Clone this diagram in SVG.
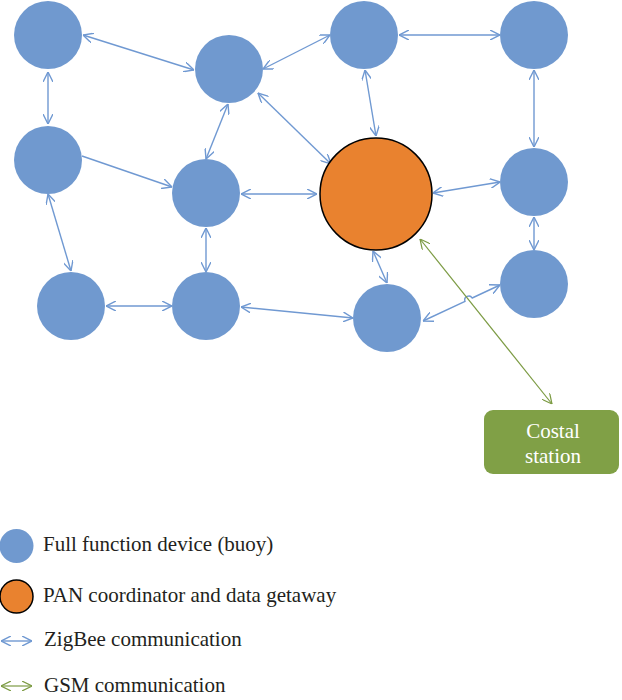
<svg xmlns="http://www.w3.org/2000/svg" width="622" height="700" viewBox="0 0 622 700">
<style>
.ffd{fill:#7099CF;}
.pan{fill:#E9822F;stroke:#000;stroke-width:1.5;}
.zb{fill:none;stroke:#7099D2;stroke-width:1.4;}
.gsm{fill:none;stroke:#7C9B43;stroke-width:1.2;}
.t{font-family:"Liberation Serif","Times New Roman",serif;font-size:21px;fill:#231F20;}
.tw{font-family:"Liberation Serif","Times New Roman",serif;font-size:21px;fill:#FFFFFF;text-anchor:middle;}
</style>
<defs>
<marker id="ab" viewBox="0 0 10 10" refX="10" refY="5" markerUnits="userSpaceOnUse" markerWidth="10" markerHeight="10" orient="auto-start-reverse">
<path d="M0,0 L10,5 L0,10" fill="none" stroke="#7099D2" stroke-width="1.4"/>
</marker>
<marker id="ag" viewBox="0 0 10 10" refX="10" refY="5" markerUnits="userSpaceOnUse" markerWidth="10" markerHeight="10" orient="auto-start-reverse">
<path d="M0,0 L10,5 L0,10" fill="none" stroke="#7C9B43" stroke-width="1.2"/>
</marker>
</defs>
<g id="connectors">
<line class="zb" x1="83" y1="35" x2="194" y2="70" marker-start="url(#ab)" marker-end="url(#ab)"/>
<line class="zb" x1="48" y1="72" x2="48" y2="124" marker-start="url(#ab)" marker-end="url(#ab)"/>
<line class="zb" x1="82" y1="156" x2="172" y2="187" marker-end="url(#ab)"/>
<line class="zb" x1="228" y1="104" x2="206" y2="159" marker-start="url(#ab)" marker-end="url(#ab)"/>
<line class="zb" x1="258" y1="93" x2="331" y2="164" marker-start="url(#ab)" marker-end="url(#ab)"/>
<line class="zb" x1="263" y1="69" x2="330" y2="35" marker-start="url(#ab)" marker-end="url(#ab)"/>
<line class="zb" x1="399" y1="35" x2="500" y2="35" marker-start="url(#ab)" marker-end="url(#ab)"/>
<line class="zb" x1="365" y1="70" x2="376" y2="136" marker-start="url(#ab)" marker-end="url(#ab)"/>
<line class="zb" x1="534" y1="70" x2="534" y2="147" marker-start="url(#ab)" marker-end="url(#ab)"/>
<line class="zb" x1="241" y1="194" x2="317" y2="194" marker-start="url(#ab)" marker-end="url(#ab)"/>
<line class="zb" x1="433" y1="193" x2="500" y2="182" marker-start="url(#ab)" marker-end="url(#ab)"/>
<line class="zb" x1="534" y1="217" x2="534" y2="250" marker-start="url(#ab)" marker-end="url(#ab)"/>
<line class="zb" x1="373" y1="251" x2="387" y2="283" marker-start="url(#ab)" marker-end="url(#ab)"/>
<line class="zb" x1="48" y1="194" x2="71" y2="271" marker-start="url(#ab)" marker-end="url(#ab)"/>
<line class="zb" x1="206" y1="228" x2="206" y2="272" marker-start="url(#ab)" marker-end="url(#ab)"/>
<line class="zb" x1="106" y1="306" x2="172" y2="306" marker-start="url(#ab)" marker-end="url(#ab)"/>
<line class="zb" x1="241" y1="307" x2="353" y2="318" marker-start="url(#ab)" marker-end="url(#ab)"/>
<path class="zb" d="M423,321 L465,301.4 A4,4 0 0 1 472.2,298 L500,285" marker-start="url(#ab)" marker-end="url(#ab)"/>
<line class="gsm" x1="420" y1="239" x2="552" y2="404" marker-start="url(#ag)" marker-end="url(#ag)"/>
</g>
<g id="n1"><circle class="ffd" cx="48" cy="35" r="34"/></g>
<g id="n2"><circle class="ffd" cx="229" cy="69" r="34"/></g>
<g id="n3"><circle class="ffd" cx="48" cy="160" r="34"/></g>
<g id="n4"><circle class="ffd" cx="206" cy="193" r="34"/></g>
<g id="n5"><circle class="ffd" cx="364" cy="35" r="34"/></g>
<g id="n6"><circle class="ffd" cx="534" cy="35" r="34"/></g>
<g id="n7"><circle class="pan" cx="376" cy="194" r="56"/></g>
<g id="n8"><circle class="ffd" cx="534" cy="182" r="34"/></g>
<g id="n9"><circle class="ffd" cx="71" cy="306" r="34"/></g>
<g id="n10"><circle class="ffd" cx="206" cy="306" r="34"/></g>
<g id="n11"><circle class="ffd" cx="387" cy="318" r="34"/></g>
<g id="n12"><circle class="ffd" cx="534" cy="284" r="34"/></g>
<g id="station">
<rect x="484" y="410" width="135" height="64" rx="9" fill="#80A046"/>
<text class="tw" x="553" y="438">Costal</text>
<text class="tw" x="553" y="463">station</text>
</g>
<g id="legend">
<circle class="ffd" cx="16.5" cy="546" r="17"/>
<text class="t" x="43" y="551">Full function device (buoy)</text>
<circle class="pan" cx="16.5" cy="596.5" r="16.5"/>
<text class="t" x="43" y="602">PAN coordinator and data getaway</text>
<line class="zb" x1="1" y1="641" x2="32" y2="641" marker-start="url(#ab)" marker-end="url(#ab)"/>
<text class="t" x="44" y="646">ZigBee communication</text>
<line class="gsm" x1="1" y1="686" x2="32" y2="686" marker-start="url(#ag)" marker-end="url(#ag)"/>
<text class="t" x="44" y="692">GSM communication</text>
</g>
</svg>
